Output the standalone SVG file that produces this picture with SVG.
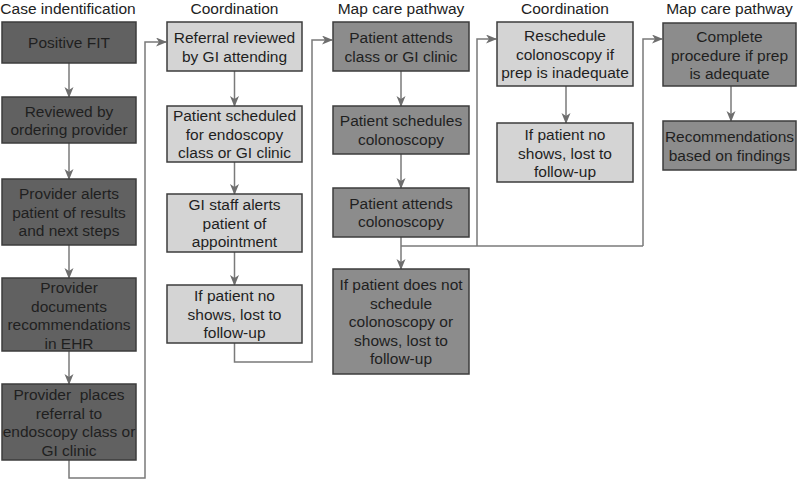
<svg xmlns="http://www.w3.org/2000/svg" width="800" height="481" viewBox="0 0 800 481">
<defs>
<style>
text{font-family:"Liberation Sans",Arial,sans-serif;font-size:15.5px;fill:#1f1f1f;text-anchor:middle}
.hdr{fill:#222}
.box rect{stroke:#3c3c3c;stroke-width:1.5}
.dark rect{fill:#616161}
.mid rect{fill:#8c8c8c}
.light rect{fill:#d4d4d4}
.conn path{fill:none;stroke:#7a7a7a;stroke-width:1.5}
</style>
<marker id="ah" markerUnits="userSpaceOnUse" markerWidth="12" markerHeight="10" refX="10" refY="4.5" orient="auto">
<path d="M0,0 L11,4.5 L0,9 L3,4.5 z" fill="#6e6e6e"/>
</marker>
</defs>
<rect width="800" height="481" fill="#fff"/>
<g id="headers">
<text class="hdr" x="68" y="14">Case indentification</text>
<text class="hdr" x="234.5" y="14">Coordination</text>
<text class="hdr" x="401" y="14">Map care pathway</text>
<text class="hdr" x="565" y="14">Coordination</text>
<text class="hdr" x="729.5" y="14">Map care pathway</text>
</g>
<g class="conn" id="connectors">
<path d="M69 63V97" marker-end="url(#ah)"/>
<path d="M69 143V179" marker-end="url(#ah)"/>
<path d="M69 245V278" marker-end="url(#ah)"/>
<path d="M69 351V384" marker-end="url(#ah)"/>
<path d="M69 460V478H145V42H166" marker-end="url(#ah)"/>
<path d="M234.5 71V106" marker-end="url(#ah)"/>
<path d="M234.5 162V194" marker-end="url(#ah)"/>
<path d="M234.5 252V285" marker-end="url(#ah)"/>
<path d="M234.5 343V362H312V40H332" marker-end="url(#ah)"/>
<path d="M401 71V106" marker-end="url(#ah)"/>
<path d="M401 154V188" marker-end="url(#ah)"/>
<path d="M401 237V269" marker-end="url(#ah)"/>
<path d="M401 246H643"/>
<path d="M477 246V39H496" marker-end="url(#ah)"/>
<path d="M643 246V39H662" marker-end="url(#ah)"/>
<path d="M566 86V123" marker-end="url(#ah)"/>
<path d="M731 86V121" marker-end="url(#ah)"/>
</g>
<g id="n1" class="box dark"><rect x="2" y="22" width="134" height="41"/><text x="69" y="48">Positive FIT</text></g>
<g id="n2" class="box dark"><rect x="2" y="97" width="134" height="46"/><text x="69" y="116.5">Reviewed by</text><text x="69" y="135">ordering provider</text></g>
<g id="n3" class="box dark"><rect x="2" y="179" width="134" height="66"/><text x="69" y="199">Provider alerts</text><text x="69" y="217.5">patient of results</text><text x="69" y="236">and next steps</text></g>
<g id="n4" class="box dark"><rect x="2" y="278" width="134" height="73"/><text x="69" y="293">Provider</text><text x="69" y="311.5">documents</text><text x="69" y="330">recommendations</text><text x="69" y="348.5">in EHR</text></g>
<g id="n5" class="box dark"><rect x="2" y="384" width="134" height="76"/><text x="69" y="400">Provider&#160; places</text><text x="69" y="418.5">referral to</text><text x="69" y="437">endoscopy class or</text><text x="69" y="455.5">GI clinic</text></g>
<g id="n6" class="box light"><rect x="167" y="22" width="135" height="49"/><text x="234.5" y="43">Referral reviewed</text><text x="234.5" y="61.5">by GI attending</text></g>
<g id="n7" class="box light"><rect x="167" y="106" width="135" height="56"/><text x="234.5" y="121">Patient scheduled</text><text x="234.5" y="139.5">for endoscopy</text><text x="234.5" y="158">class or GI clinic</text></g>
<g id="n8" class="box light"><rect x="167" y="194" width="135" height="58"/><text x="234.5" y="210">GI staff alerts</text><text x="234.5" y="228.5">patient of</text><text x="234.5" y="247">appointment</text></g>
<g id="n9" class="box light"><rect x="167" y="285" width="135" height="58"/><text x="234.5" y="301">If patient no</text><text x="234.5" y="319.5">shows, lost to</text><text x="234.5" y="338">follow-up</text></g>
<g id="n10" class="box mid"><rect x="333" y="22" width="136" height="49"/><text x="401" y="43">Patient attends</text><text x="401" y="61.5">class or GI clinic</text></g>
<g id="n11" class="box mid"><rect x="333" y="106" width="136" height="48"/><text x="401" y="126">Patient schedules</text><text x="401" y="144.5">colonoscopy</text></g>
<g id="n12" class="box mid"><rect x="333" y="188" width="136" height="49"/><text x="401" y="208.5">Patient attends</text><text x="401" y="227">colonoscopy</text></g>
<g id="n13" class="box mid"><rect x="333" y="269" width="136" height="105"/><text x="401" y="290">If patient does not</text><text x="401" y="308.5">schedule</text><text x="401" y="327">colonoscopy or</text><text x="401" y="345.5">shows, lost to</text><text x="401" y="364">follow-up</text></g>
<g id="n14" class="box light"><rect x="497" y="22" width="136" height="64"/><text x="565" y="41">Reschedule</text><text x="565" y="59.5">colonoscopy if</text><text x="565" y="78">prep is inadequate</text></g>
<g id="n15" class="box light"><rect x="497" y="123" width="136" height="59"/><text x="565" y="140">If patient no</text><text x="565" y="158.5">shows, lost to</text><text x="565" y="177">follow-up</text></g>
<g id="n16" class="box mid"><rect x="663" y="23" width="133" height="63"/><text x="729.5" y="42">Complete</text><text x="729.5" y="60.5">procedure if prep</text><text x="729.5" y="79">is adequate</text></g>
<g id="n17" class="box mid"><rect x="663" y="121" width="133" height="49"/><text x="729.5" y="142">Recommendations</text><text x="729.5" y="160.5">based on findings</text></g>
</svg>
